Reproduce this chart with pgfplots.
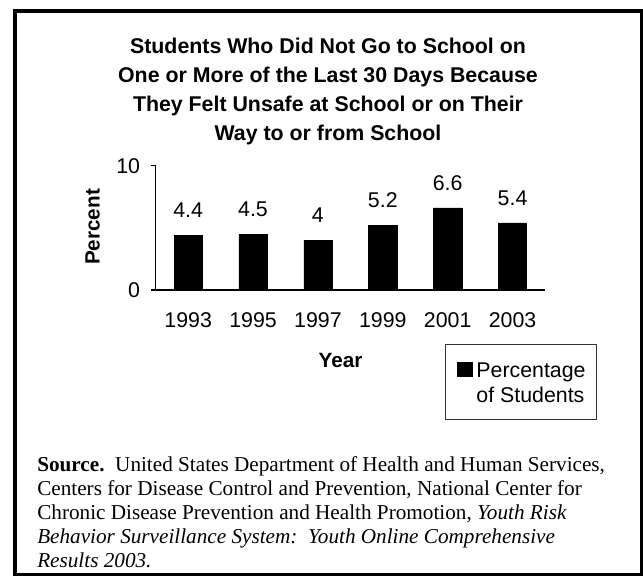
\documentclass[border=0pt]{standalone}
\usepackage{fontspec}
\setmainfont{Liberation Sans}
\newfontfamily\srcfont{Liberation Serif}
\usepackage{pgfplots}
\pgfplotsset{compat=1.18}
\begin{document}
\begin{tikzpicture}
\path[use as bounding box, fill=white] (0,0) rectangle (482.25pt,-432pt);
\draw[line width=2.5pt] (11.25pt,-8.25pt) rectangle (481.35pt,-431.1pt);
\begin{scope}[every node/.style={anchor=base, inner sep=0pt, font=\bfseries\fontsize{16}{19}\selectfont}]
\node at (246pt,-40pt) {Students Who Did Not Go to School on};
\node at (246pt,-61.7pt) {One or More of the Last 30 Days Because};
\node at (246pt,-83.25pt) {They Felt Unsafe at School or on Their};
\node at (246pt,-105pt) {Way to or from School};
\end{scope}
\begin{axis}[
  at={(116.78pt,-217.5pt)}, anchor=south west,
  scale only axis, width=291.98pt, height=93.23pt,
  xmin=-0.5, xmax=5.5, ymin=0, ymax=10,
  axis x line*=bottom, axis y line*=left,
  axis line style={line width=0.9pt, -},
  xtick={0,...,5}, xticklabels={1993,1995,1997,1999,2001,2003},
  ytick={0,10},
  major x tick style={draw=none},
  tick align=outside, major tick length=3.75pt,
  y tick style={line width=0.9pt, black},
  tick label style={font=\fontsize{16}{19}\selectfont},
  /pgf/number format/assume math mode=true,
  xticklabel style={anchor=base, inner sep=0pt, yshift=-24.55pt},
  yticklabel style={anchor=east, inner sep=0pt, xshift=-7.75pt},
  xlabel={Year},
  xlabel style={at={(axis description cs:0.4747,-0.625)}, anchor=base, inner sep=0pt, font=\bfseries\fontsize{15.5}{18}\selectfont},
  ylabel={Percent},
  ylabel style={at={(axis description cs:-0.144,0.507)}, anchor=base, inner sep=0pt, font=\bfseries\fontsize{15.5}{18}\selectfont},
  clip=false,
  legend style={at={(axis description cs:0.7439,-0.4368)}, anchor=north west,
    draw=black!80, line width=0.75pt, inner xsep=8.5pt, inner ysep=11.6pt,
    cells={anchor=base west}, nodes={inner sep=0pt}, column sep=2.5pt,
    font=\fontsize{16}{18.5}\selectfont},
]
\addplot[ybar, bar width=21.2pt, fill=black, draw=black,
  legend image code/.code={\fill[black] (0pt,19.25pt) rectangle (11.25pt,30pt);},
  point meta=explicit symbolic, nodes near coords,
  nodes near coords style={anchor=base, inner sep=0pt, yshift=13.2pt, font=\fontsize{16}{19}\selectfont, text=black}]
  coordinates {(0,4.4)[4.4] (1,4.5)[4.5] (2,4)[4] (3,5.2)[5.2] (4,6.6)[6.6] (5,5.4)[5.4]};
\addlegendentry{\begin{tabular}[b]{@{}l@{}}Percentage\\of Students\end{tabular}}
\end{axis}
\begin{scope}[every node/.style={anchor=base west, inner sep=0pt, font=\srcfont\fontsize{15.9}{18}\selectfont}]
\node at (27.75pt,-353.6pt) {\textbf{Source.}\ \ United States Department of Health and Human Services,};
\node at (27.75pt,-371.6pt) {Centers for Disease Control and Prevention, National Center for};
\node at (27.75pt,-389.6pt) {Chronic Disease Prevention and Health Promotion, \textit{Youth Risk}};
\node at (27.75pt,-407.6pt) {\textit{Behavior Surveillance System:\ \ Youth Online Comprehensive}};
\node at (27.75pt,-425.6pt) {\textit{Results 2003.}};
\end{scope}
\end{tikzpicture}
\end{document}
